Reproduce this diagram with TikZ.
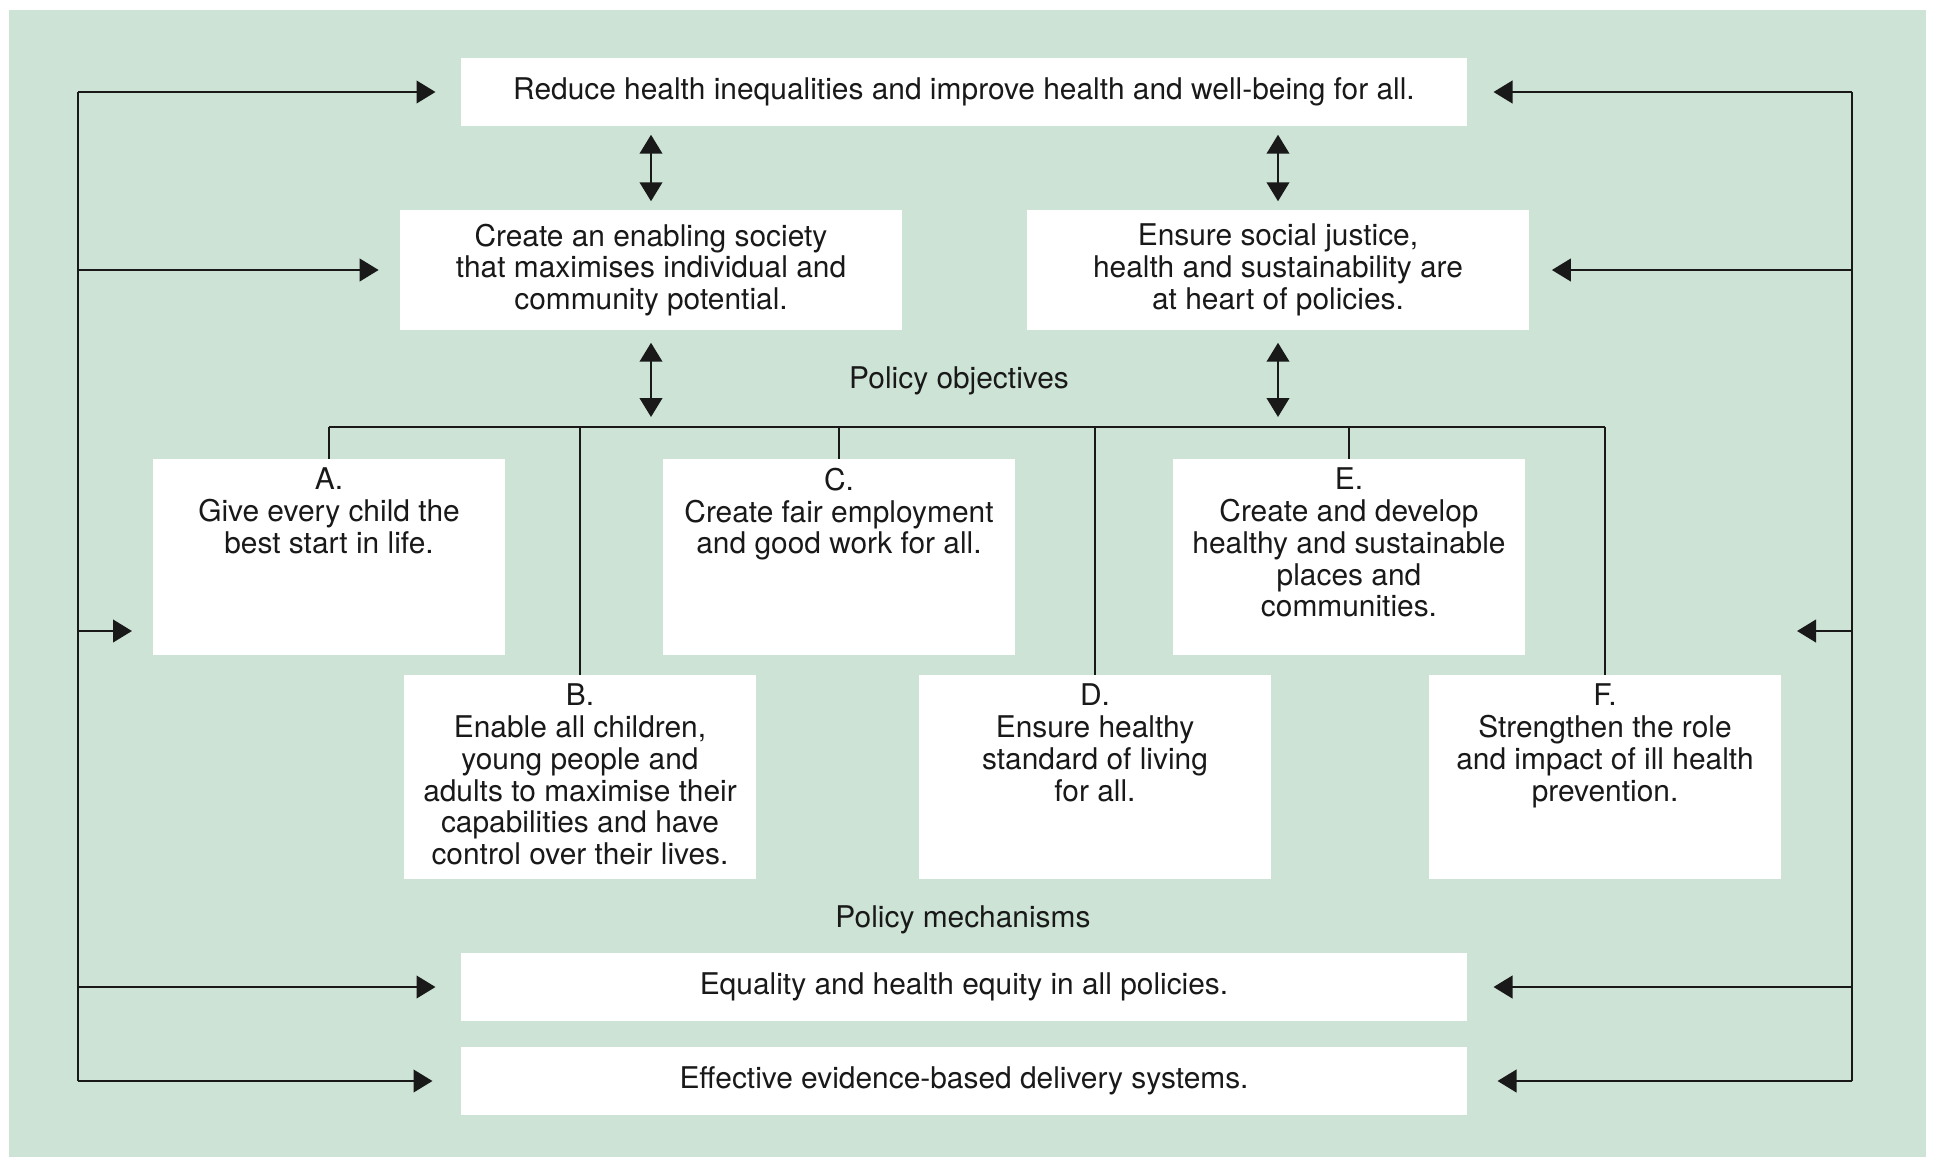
\documentclass[tikz,border=0pt]{standalone}
\usepackage{fontspec}
\setmainfont{TeX Gyre Heros}
\usetikzlibrary{calc,arrows.meta}
\definecolor{panel}{RGB}{205,227,214}
\definecolor{ink}{RGB}{25,25,25}
\newcommand{\objective}[3]{\parbox[c][#1][t]{3.52cm}{\centering\vspace*{2.4pt}#2\\#3}}

\begin{document}
\begin{tikzpicture}[x=0.01cm,y=-0.01cm,font=\fontsize{8.5}{9.05}\selectfont]
    \tikzset{box/.style={fill=white,inner sep=0pt,align=center,text=ink},
      objbox/.style={fill=white,inner sep=0pt,text=ink},
      wire/.style={draw=ink,line width=0.7pt},
      feed/.style={wire,-{Triangle[length=5.4pt,width=6.4pt]}},
      both/.style={wire,{Triangle[length=5.4pt,width=6.4pt]}-{Triangle[length=5.4pt,width=6.4pt]}}}
  \useasboundingbox (0,0) rectangle (1933,1157);
  \fill[panel] (9,10) rectangle (1926,1157);
% aims
\node[box,minimum width=10.05cm,minimum height=0.68cm] (aim) at (964,92)
  {Reduce health inequalities and improve health and well-being for all.};
\node[box,minimum width=5.01cm,minimum height=1.2cm] (society) at (651,270)
  {Create an enabling society\\that maximises individual and\\community potential.};
\node[box,minimum width=5.02cm,minimum height=1.2cm] (justice) at (1278,270)
  {Ensure social justice,\\health and sustainability are\\at heart of policies.};
\node[text=ink] (objectives) at (959,381) {Policy objectives};
% objectives
\node[objbox] (A) at (329,557) {\objective{1.95cm}{A.}{Give every child the\\best start in life.}};
\node[objbox] (C) at (839,557) {\objective{1.95cm}{C.}{Create fair employment\\and good work for all.}};
\node[objbox] (E) at (1349,557) {\objective{1.95cm}{E.}{Create and develop\\healthy and sustainable\\places and\\communities.}};
\node[objbox] (B) at (580,777) {\objective{2.03cm}{B.}{Enable all children,\\young people and\\adults to maximise their\\capabilities and have\\control over their lives.}};
\node[objbox] (D) at (1095,777) {\objective{2.03cm}{D.}{Ensure healthy\\standard of living\\for all.}};
\node[objbox] (F) at (1605,777) {\objective{2.03cm}{F.}{Strengthen the role\\and impact of ill health\\prevention.}};
% mechanisms
\node[text=ink] (mechanisms) at (963,920) {Policy mechanisms};
\node[box,minimum width=10.05cm,minimum height=0.68cm] (equity) at (964,987)
  {Equality and health equity in all policies.};
\node[box,minimum width=10.05cm,minimum height=0.67cm] (delivery) at (964,1081)
  {Effective evidence-based delivery systems.};

\coordinate (bus) at (0,427);
\coordinate (lx) at (78,0);
\coordinate (rx) at (1852,0);
\coordinate (objL) at (132,631);
\coordinate (objR) at (1797,631);

 \draw[both,shorten <=0.08cm,shorten >=0.08cm] (society.north |- aim.south) -- (society.north);
 \draw[both,shorten <=0.08cm,shorten >=0.08cm] (justice.north |- aim.south) -- (justice.north);
 \draw[both,shorten <=0.12cm,shorten >=0.1cm] (society.south) -- (society.south |- bus);
 \draw[both,shorten <=0.12cm,shorten >=0.1cm] (justice.south) -- (justice.south |- bus);
% tree of objectives
 \draw[wire] (A.north |- bus) -- (F.north |- bus);
 \foreach \o in {A,B,C,D,E,F}
   \draw[wire] (\o.north |- bus) -- (\o.north);
% feedback on both sides
 \draw[wire] (lx |- aim) -- (lx |- delivery);
 \draw[wire] (rx |- aim) -- (rx |- delivery);
 \draw[feed,shorten >=0.25cm] (lx |- aim) -- (aim);
 \draw[feed,shorten >=0.21cm] (lx |- society) -- (society);
 \draw[feed] (lx |- objL) -- (objL);
 \draw[feed,shorten >=0.25cm] (lx |- equity) -- (equity);
 \draw[feed,shorten >=0.28cm] (lx |- delivery) -- (delivery);
 \draw[feed,shorten >=0.26cm] (rx |- aim) -- (aim);
 \draw[feed,shorten >=0.22cm] (rx |- justice) -- (justice);
 \draw[feed] (rx |- objR) -- (objR);
 \draw[feed,shorten >=0.26cm] (rx |- equity) -- (equity);
 \draw[feed,shorten >=0.3cm] (rx |- delivery) -- (delivery);
\end{tikzpicture}
\end{document}
